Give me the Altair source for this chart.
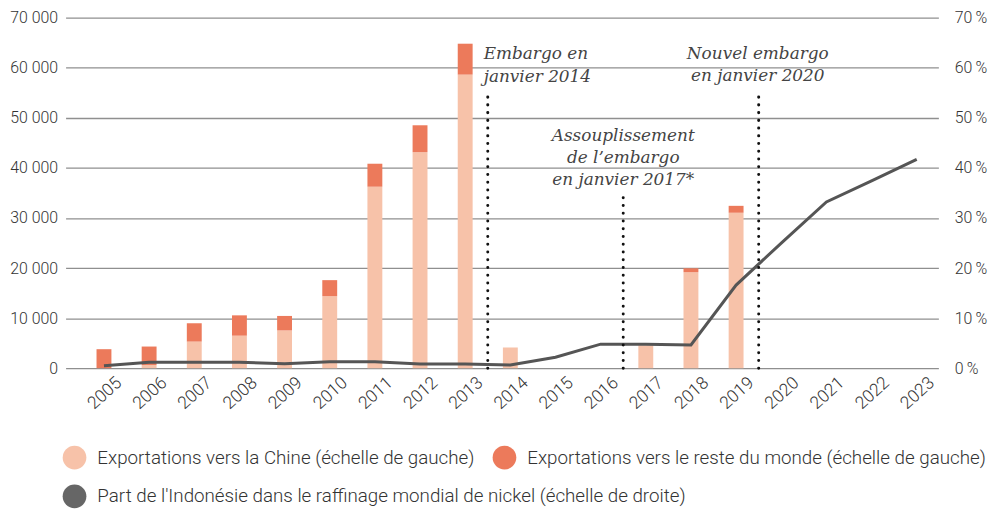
import altair as alt
import pandas as pd

# ---- data ----
years_bar = [2005, 2006, 2007, 2008, 2009, 2010, 2011, 2012, 2013, 2014, 2017, 2018, 2019]
china = [0, 650, 5320, 6500, 7550, 14380, 36250, 43140, 58630, 4140, 4590, 19170, 31050]
reste = [3800, 3680, 3660, 4060, 2890, 3210, 4590, 5380, 6180, 0, 0, 790, 1380]

years_line = list(range(2005, 2024))
part = [0.5, 1.2, 1.2, 1.2, 0.9, 1.3, 1.3, 0.85, 0.85, 0.65, 2.2, 4.8, 4.8, 4.65,
        16.6, 25.0, 33.2, 37.4, 41.7]

cat_china = "Exportations vers la Chine (échelle de gauche)"
cat_reste = "Exportations vers le reste du monde (échelle de gauche)"
cat_part = "Part de l'Indonésie dans le raffinage mondial de nickel (échelle de droite)"

event_years = [2013.5, 2016.5, 2019.5]
event_tops = [54530, 34310, 54530]

ann_left_text = [["Embargo en", "janvier 2014"]]
ann_left_x = [2013.41]
ann_left_y = [61670]
ann_center_text = [["Assouplissement", "de l’embargo", "en janvier 2017*"],
                   ["Nouvel embargo", "en janvier 2020"]]
ann_center_x = [2016.5, 2019.48]
ann_center_y = [45410, 61670]

left_ticks = [0, 10000, 20000, 30000, 40000, 50000, 60000, 70000]
right_ticks = [0, 10, 20, 30, 40, 50, 60, 70]

# ---- tables ----
bars_df = pd.DataFrame({
    "annee": years_bar * 2,
    "valeur": china + reste,
    "serie": [cat_china] * len(years_bar) + [cat_reste] * len(years_bar),
    "ordre": [0] * len(years_bar) + [1] * len(years_bar),
})
line_df = pd.DataFrame({"annee": years_line, "part": part, "serie": [cat_part] * len(years_line)})
rule_df = pd.DataFrame({"annee": event_years, "bas": [0] * 3, "haut": event_tops})
annl_df = pd.DataFrame({"annee": ann_left_x, "y": ann_left_y, "txt": ann_left_text})
annc_df = pd.DataFrame({"annee": ann_center_x, "y": ann_center_y, "txt": ann_center_text})

xscale = alt.Scale(domain=[2004.26, 2023.37], nice=False, zero=False)
yscale = alt.Scale(domain=[0, 70000], nice=False)

AX_FONT = "Roboto"
LEG_FONT = "Roboto"
TXT = "#333333"

bars = alt.Chart(bars_df).mark_bar(width=15).encode(
    x=alt.X("annee:Q", scale=xscale, title=None,
            axis=alt.Axis(values=years_line, format="d", grid=False, domain=False, ticks=False,
                          labelAngle=-42, labelAlign="right", labelBaseline="middle",
                          labelOffset=15, labelPadding=12, labelFont=AX_FONT, labelFontSize=17.5,
                          labelFontWeight=300, labelColor=TXT, labelFlush=False,
                          labelOverlap=False)),
    y=alt.Y("valeur:Q", stack="zero", scale=yscale, title=None,
            axis=alt.Axis(values=left_ticks, grid=True, gridColor="#8f8f8f", gridWidth=1.3,
                          domain=False, ticks=False, labelPadding=8, labelFont=AX_FONT,
                          labelFontSize=16, labelFontWeight=300, labelColor=TXT,
                          labelExpr="replace(format(datum.value, ','), ',', ' ')")),
    color=alt.Color("serie:N",
                    scale=alt.Scale(domain=[cat_china, cat_reste], range=["#f7c2a9", "#ec7a5b"]),
                    legend=alt.Legend(title=None, orient="none", direction="horizontal",
                                      legendX=-3, legendY=431, symbolType="circle",
                                      symbolSize=570, symbolStrokeWidth=0, labelOffset=11,
                                      columnPadding=18, labelFont=LEG_FONT, labelFontSize=18.9,
                                      labelFontWeight=300, labelColor=TXT, labelLimit=1000,
                                      padding=0)),
    order=alt.Order("ordre:Q"),
)

line = alt.Chart(line_df).mark_line(strokeWidth=3).encode(
    x=alt.X("annee:Q", scale=xscale),
    y=alt.Y("part:Q", scale=alt.Scale(domain=[0, 70], nice=False), title=None,
            axis=alt.Axis(orient="right", values=right_ticks, grid=False, domain=False, ticks=False,
                          labelPadding=16, labelFont=AX_FONT, labelFontSize=16,
                          labelFontWeight=300, labelColor=TXT,
                          labelExpr="datum.value + '\u2009%'")),
    color=alt.Color("serie:N", scale=alt.Scale(domain=[cat_part], range=["#555555"]),
                    legend=alt.Legend(title=None, orient="none", direction="horizontal",
                                      legendX=-3, legendY=470, symbolType="circle",
                                      symbolSize=570, labelOffset=11, labelFont=LEG_FONT,
                                      labelFontSize=18.9, labelFontWeight=300, labelColor=TXT,
                                      labelLimit=1000, padding=0, symbolFillColor="#666666",
                                      symbolStrokeColor="#666666", symbolStrokeWidth=0)),
)

rules = alt.Chart(rule_df).mark_rule(strokeDash=[0.1, 7.7], strokeCap="round",
                                     strokeWidth=3, color="#111111").encode(
    x=alt.X("annee:Q", scale=xscale),
    y=alt.Y("bas:Q", scale=yscale, axis=None),
    y2="haut:Q",
)

txt_left = alt.Chart(annl_df).mark_text(align="left", baseline="alphabetic", font="DejaVu Serif",
                                        fontStyle="italic", fontSize=17, lineHeight=23,
                                        color="#444444").encode(
    x=alt.X("annee:Q", scale=xscale),
    y=alt.Y("y:Q", scale=yscale, axis=None),
    text="txt",
)
txt_center = alt.Chart(annc_df).mark_text(align="center", baseline="alphabetic", font="DejaVu Serif",
                                          fontStyle="italic", fontSize=17, lineHeight=22,
                                          color="#444444").encode(
    x=alt.X("annee:Q", scale=xscale),
    y=alt.Y("y:Q", scale=yscale, axis=None),
    text="txt",
)

chart = alt.layer(bars, line, rules, txt_left, txt_center).resolve_scale(
    y="independent", color="independent"
).properties(
    width=879, height=353,
    padding={"left": 58, "top": 8, "right": 54, "bottom": 141},
    autosize=alt.AutoSizeParams(type="none"),
).configure_view(stroke=None)

chart.save("out.html", embed_options={"renderer": "svg", "actions": False})
